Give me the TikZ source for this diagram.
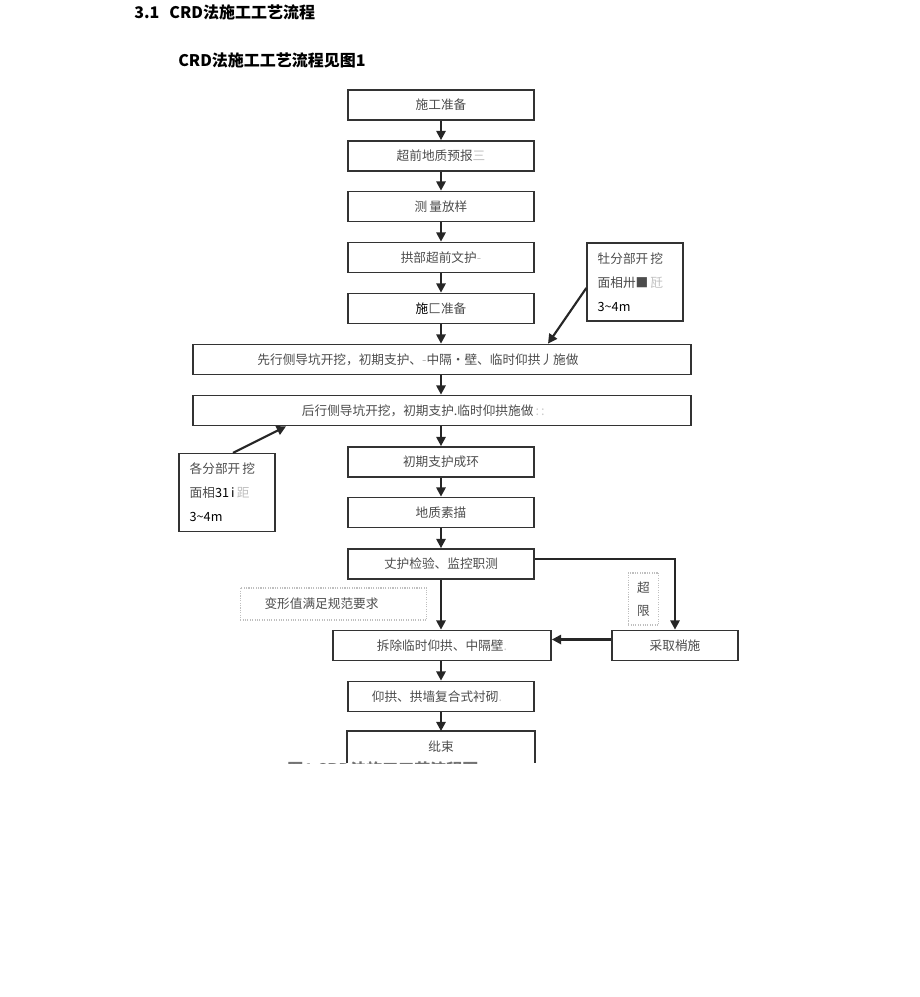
\documentclass[tikz,border=0pt]{standalone}
\usepackage{fontspec}
\setmainfont{Noto Sans CJK SC}
\usetikzlibrary{arrows.meta}
\tikzset{
  box/.style={draw=black!80, line width=1.3pt, text=black!70, inner sep=0pt,
    minimum width=139.5pt, minimum height=22.5pt, font=\fontsize{9.5pt}{11pt}\selectfont},
  widebox/.style={box, minimum width=373.5pt},
  note/.style={box, line width=1pt, minimum width=72pt, minimum height=58.5pt,
    inner xsep=8pt, text width=56pt, align=left, font=\fontsize{9.5pt}{18pt}\selectfont},
  faintbox/.style={draw=black!25, line width=0.8pt, densely dotted, text=black!70, inner sep=0pt,
    font=\fontsize{9.5pt}{11pt}\selectfont},
  arr/.style={draw=black!85, line width=1.6pt, -{Triangle[width=7pt,length=7pt]}},
  head/.style={anchor=west, inner sep=0pt, font=\fontsize{12pt}{14pt}\selectfont\bfseries}
}
\begin{document}
\begin{tikzpicture}[x=0.75pt,y=-0.75pt]
\useasboundingbox (0,0) rectangle (920,997);
\node[head] (t1) at (134,12) {3.1\ \ \,CRD法施工工艺流程};
\node[head] (t2) at (178,60) {CRD法施工工艺流程见图1};

\node[box] (b1) at (441,105) {施工准备};
\node[box] (b2) at (441,156) {超前地质预报{\color{black!25}三}};
\node[box] (b3) at (441,206.5) {测\,量放样};
\node[box] (b4) at (441,257.5) {拱部超前文护{\color{black!25}-}};
\node[box] (b5) at (441,308.5) {{\color{black}施}匚准备};
\node[widebox] (w1) at (442,359.5) {\hspace*{-36pt}先行侧导坑开挖，初期支护、{\color{black!30}-}中隔•壁、临时仰拱丿施做};
\node[widebox] (w2) at (442,410.5) {\hspace*{-28pt}后行侧导坑开挖，初期支护.临时仰拱施做{\color{black!20}\,:\,:}};
\node[box] (b6) at (441,462) {初期支护成环};
\node[box] (b7) at (441,512.5) {地质素描};
\node[box] (b8) at (441,564) {丈护检验、监控职测};
\node[box, minimum width=163.5pt] (b9) at (442,645.5) {拆除临时仰拱、中隔壁{\color{black!20}.}};
\node[box] (b10) at (441,696.5) {\hspace*{-6pt}仰拱、拱墙复合式衬砌{\color{black!20}.}};
\node[box, draw=none] (b11) at (441,747) {纰束};
\draw[draw=black!80, line width=1.3pt] (b11.south west) -- (b11.north west) -- (b11.north east) -- (b11.south east);

\node[note] (rn) at (635,282) {牡分部开\,挖\\面相卅■\,{\color{black!25}瓩}\\{\color{black}3\textasciitilde4m}};
\node[note] (ln) at (227,492.5) {各分部开\,挖\\面相{\color{black}31\,i}\,{\color{black!25}距}\\{\color{black}3\textasciitilde4m}};

\node[faintbox, minimum width=140pt, minimum height=24pt] (fv) at (333.5,604) {\hspace*{-18pt}变形值满足规范要求};
\node[faintbox, minimum width=23pt, minimum height=39pt, align=center, font=\fontsize{9.5pt}{17pt}\selectfont] (fl) at (643.5,599) {超\\限};
\node[box, minimum width=94.5pt] (cq) at (675,645.5) {采取梢施};

\draw[arr] (b1) -- (b2);
\draw[arr] (b2) -- (b3);
\draw[arr] (b3) -- (b4);
\draw[arr] (b4) -- (b5);
\draw[arr] (b5) -- (b5 |- w1.north);
\draw[arr] (w1.south -| b5) -- (b5 |- w2.north);
\draw[arr] (w2.south -| b6) -- (b6);
\draw[arr] (b6) -- (b7);
\draw[arr] (b7) -- (b8);
\draw[arr] (b8) -- (b8 |- b9.north);
\draw[arr] (b8 |- b9.south) -- (b10);
\draw[arr] (b10) -- (b11.north);
\draw[arr] ([yshift=-4.5pt]rn.west) -- ([xshift=79.5pt]w1.north);
\draw[arr] ([xshift=4.5pt]ln.north) -- ([xshift=-117pt]w2.south);
\draw[arr] ([yshift=3.5pt]b8.east) -| (cq.north);
\draw[arr] ([yshift=4.5pt]cq.west) -- ([yshift=4.5pt]b9.east);

\begin{scope}
\clip (0,0) rectangle (920,763);
\node[anchor=north west, inner sep=0pt, text=black!55, font=\fontsize{12pt}{14pt}\selectfont\bfseries] (cap) at (287,761) {图1 CRD法施工工艺流程图};
\end{scope}
\end{tikzpicture}
\end{document}
